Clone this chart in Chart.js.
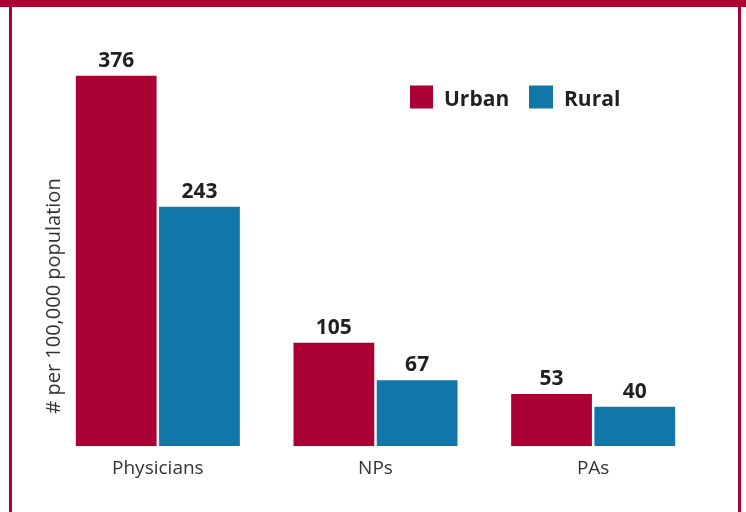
<!DOCTYPE html>
<html>
<head>
<meta charset="utf-8">
<script src="https://cdn.jsdelivr.net/npm/chart.js@4/dist/chart.umd.min.js"></script>
<style>
  html, body { margin: 0; padding: 0; background: #ffffff; }
  #wrap { position: relative; width: 746px; height: 512px; overflow: hidden; }
  #c { position: absolute; left: 0; top: 0; }
  .frame { position: absolute; background: #ab0033; }
</style>
</head>
<body>
<div id="wrap">
  <canvas id="c" width="746" height="512"></canvas>
  <div class="frame" style="left:0;top:0;width:746px;height:7px;"></div>
  <div class="frame" style="left:9px;top:0;width:3px;height:512px;"></div>
  <div class="frame" style="left:738px;top:0;width:3px;height:512px;"></div>
</div>
<script>
const categories = ['Physicians', 'NPs', 'PAs'];
const seriesNames = ['Urban', 'Rural'];
const urbanValues = [376, 105, 53];
const ruralValues = [243, 67, 40];
const yAxisTitle = '# per 100,000 population';

const URBAN = '#ab0033';
const RURAL = '#1177a8';
const FONT = "'Open Sans', 'Liberation Sans', sans-serif";

const valueLabels = {
  id: 'valueLabels',
  afterDatasetsDraw(chart) {
    const ctx = chart.ctx;
    ctx.save();
    ctx.font = "bold 21px " + FONT;
    ctx.fillStyle = '#231f20';
    ctx.textAlign = 'center';
    ctx.textBaseline = 'alphabetic';
    chart.data.datasets.forEach((ds, i) => {
      chart.getDatasetMeta(i).data.forEach((bar, j) => {
        ctx.fillText(String(ds.data[j]), bar.x, bar.y - 9);
      });
    });
    ctx.restore();
  }
};

const customLegend = {
  id: 'customLegend',
  afterDraw(chart) {
    const ctx = chart.ctx;
    ctx.save();
    ctx.font = "bold 21px " + FONT;
    ctx.textBaseline = 'alphabetic';
    ctx.textAlign = 'left';
    const items = [
      { x: 410, w: 23 },
      { x: 529, w: 24 }
    ];
    chart.data.datasets.forEach((ds, i) => {
      const it = items[i];
      ctx.fillStyle = ds.backgroundColor;
      ctx.fillRect(it.x, 85.5, it.w, 23);
      ctx.fillStyle = '#231f20';
      ctx.fillText(ds.label, it.x + it.w + 11, 105.5);
    });
    ctx.restore();
  }
};

const yTitle = {
  id: 'yTitle',
  afterDraw(chart) {
    const ctx = chart.ctx;
    ctx.save();
    ctx.translate(54, 296);
    ctx.rotate(-Math.PI / 2);
    ctx.font = "20px " + FONT;
    ctx.fillStyle = '#333333';
    ctx.textAlign = 'center';
    ctx.textBaseline = 'middle';
    ctx.fillText(yAxisTitle, 0, 0);
    ctx.restore();
  }
};

new Chart(document.getElementById('c'), {
  type: 'bar',
  data: {
    labels: categories,
    datasets: [
      { label: seriesNames[0], data: urbanValues, backgroundColor: URBAN },
      { label: seriesNames[1], data: ruralValues, backgroundColor: RURAL }
    ]
  },
  options: {
    responsive: false,
    animation: false,
    devicePixelRatio: 1,
    layout: { padding: { left: 49, right: 44, top: 0, bottom: 21 } },
    datasets: { bar: { categoryPercentage: 0.765, barPercentage: 0.97 } },
    plugins: {
      legend: { display: false },
      tooltip: { enabled: false },
      title: { display: false }
    },
    scales: {
      x: {
        grid: { display: false, drawTicks: false },
        border: { display: false },
        ticks: { color: '#333333', font: { family: FONT, size: 19 }, padding: 11 }
      },
      y: {
        display: false,
        min: 0,
        max: 453
      }
    }
  },
  plugins: [valueLabels, customLegend, yTitle]
});
</script>
</body>
</html>
